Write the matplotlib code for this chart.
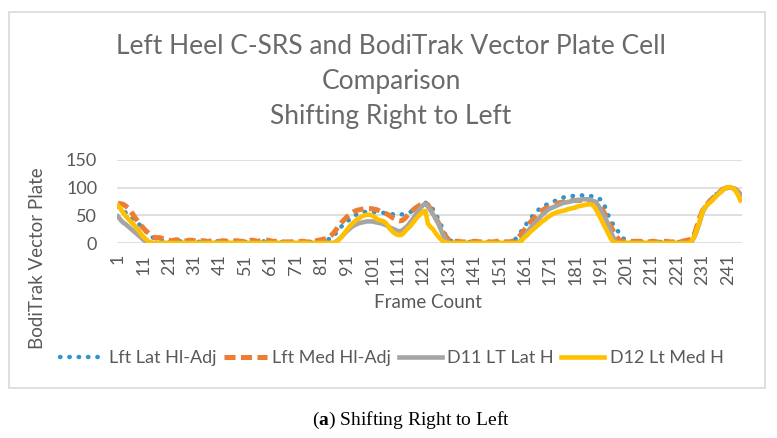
"""Left heel C-SRS vs BodiTrak vector plate cell: shifting right to left."""
import matplotlib
matplotlib.use("Agg")
import matplotlib.pyplot as plt
from matplotlib.patches import Rectangle

plt.rcParams["font.family"] = ["Lato", "DejaVu Sans"]
plt.rcParams["mathtext.fontset"] = "custom"
plt.rcParams["mathtext.rm"] = "Liberation Serif"
plt.rcParams["mathtext.bf"] = "Liberation Serif:bold"

# frame numbers 1..246 (rows of 10 frames)
lft_lat = [
    66, 62, 58, 55, 51, 47, 43, 39, 35, 31,
    26, 21, 16, 12, 9, 7, 6, 5, 5, 4,
    4, 4, 3, 3, 3, 3, 3, 3, 3, 3,
    3, 3, 2, 2, 3, 3, 3, 2, 2, 3,
    3, 3, 2, 2, 2, 3, 3, 3, 2, 2,
    2, 3, 3, 3, 3, 2, 2, 3, 3, 3,
    3, 2, 2, 2, 2, 2, 2, 2, 2, 2,
    2, 2, 2, 2, 2, 2, 2, 3, 3, 3,
    4, 5, 6, 7, 8, 13, 19, 25, 30, 34,
    38, 42, 46, 49, 52, 54, 55, 56, 56, 56,
    56, 56, 56, 55, 55, 54, 53, 53, 52, 52,
    51, 51, 52, 53, 54, 56, 58, 61, 65, 70,
    74, 73, 70, 66, 61, 53, 44, 34, 24, 14,
    7, 4, 3, 2, 2, 2, 2, 2, 2, 2,
    2, 2, 2, 2, 2, 2, 2, 2, 2, 2,
    2, 2, 2, 2, 3, 3, 5, 10, 16, 23,
    30, 36, 42, 48, 53, 58, 62, 65, 68, 70,
    72, 74, 76, 78, 80, 82, 83, 84, 84, 85,
    85, 86, 86, 86, 86, 85, 85, 84, 83, 80,
    79, 73, 62, 50, 40, 33, 27, 20, 13, 8,
    5, 4, 3, 3, 3, 2, 2, 2, 2, 2,
    2, 2, 2, 2, 2, 2, 2, 2, 2, 2,
    2, 2, 2, 3, 4, 6, 9, 17, 30, 44,
    57, 66, 72, 77, 82, 86, 90, 94, 97, 99,
    100, 100, 99, 98, 96, 94,
]
lft_med = [
    72, 71, 70, 67, 63, 58, 51, 44, 38, 32,
    27, 22, 18, 14, 11, 9, 10, 9, 7, 6,
    5, 4, 5, 6, 5, 4, 3, 4, 5, 5,
    4, 3, 3, 4, 4, 3, 3, 4, 4, 3,
    3, 4, 4, 3, 3, 3, 4, 4, 3, 3,
    3, 4, 5, 5, 4, 3, 4, 5, 6, 5,
    4, 3, 3, 3, 2, 2, 2, 2, 2, 2,
    2, 2, 3, 3, 2, 2, 2, 3, 4, 5,
    6, 7, 8, 10, 14, 19, 25, 31, 37, 42,
    47, 51, 54, 57, 59, 60, 61, 62, 62, 62,
    62, 61, 60, 58, 56, 54, 52, 49, 46, 44,
    41, 40, 41, 45, 50, 55, 59, 63, 66, 69,
    71, 72, 69, 62, 54, 46, 38, 28, 19, 12,
    7, 4, 3, 3, 3, 2, 2, 2, 2, 2,
    3, 3, 2, 2, 2, 2, 2, 2, 2, 3,
    3, 2, 2, 2, 2, 3, 4, 7, 12, 18,
    24, 30, 36, 41, 46, 51, 55, 59, 62, 64,
    66, 68, 70, 72, 73, 74, 75, 76, 76, 77,
    77, 77, 77, 77, 77, 77, 76, 75, 74, 71,
    66, 58, 49, 40, 30, 21, 13, 7, 4, 3,
    4, 4, 3, 3, 3, 3, 3, 2, 2, 2,
    3, 3, 2, 2, 3, 3, 3, 2, 2, 2,
    3, 3, 3, 4, 5, 6, 9, 18, 32, 46,
    58, 66, 71, 76, 81, 85, 89, 93, 97, 99,
    100, 100, 99, 97, 93, 88,
]
d11_lat = [
    48, 42, 37, 34, 30, 26, 22, 18, 14, 10,
    6, 3, 1, 0, 0, 0, 0, 0, 0, 0,
    0, 0, 0, 0, 0, 0, 0, 0, 0, 0,
    0, 0, 0, 0, 0, 0, 0, 0, 0, 0,
    0, 0, 0, 0, 0, 0, 0, 0, 0, 0,
    0, 0, 0, 0, 0, 0, 0, 0, 0, 0,
    0, 0, 0, 0, 0, 0, 0, 0, 0, 0,
    0, 0, 0, 0, 0, 0, 0, 0, 0, 0,
    0, 0, 0, 0, 0, 0, 3, 7, 11, 16,
    21, 25, 29, 32, 34, 36, 37, 38, 39, 39,
    39, 38, 37, 36, 35, 33, 31, 28, 26, 24,
    22, 21, 23, 27, 31, 37, 43, 50, 57, 63,
    68, 71, 66, 59, 52, 44, 36, 25, 14, 5,
    1, 0, 0, 0, 0, 0, 0, 0, 0, 0,
    0, 0, 0, 0, 0, 0, 0, 0, 0, 0,
    0, 0, 0, 0, 0, 0, 0, 0, 2, 7,
    13, 19, 25, 31, 36, 41, 46, 51, 55, 59,
    62, 64, 66, 68, 70, 72, 73, 74, 75, 76,
    77, 78, 78, 79, 79, 79, 78, 76, 73, 68,
    60, 52, 44, 32, 20, 10, 2, 0, 0, 0,
    0, 0, 0, 0, 0, 0, 0, 0, 0, 0,
    0, 0, 0, 0, 0, 0, 0, 0, 0, 0,
    0, 0, 0, 0, 0, 0, 4, 12, 24, 38,
    54, 63, 69, 74, 79, 84, 88, 92, 96, 99,
    100, 100, 99, 96, 92, 87,
]
d12_med = [
    68, 62, 55, 49, 44, 39, 34, 29, 23, 17,
    11, 7, 3, 1, 0, 0, 0, 0, 0, 0,
    0, 0, 0, 0, 0, 0, 0, 0, 0, 0,
    0, 0, 0, 0, 0, 0, 0, 0, 0, 0,
    0, 0, 0, 0, 0, 0, 0, 0, 0, 0,
    0, 0, 0, 0, 0, 0, 0, 0, 0, 0,
    0, 0, 0, 0, 0, 0, 0, 0, 0, 0,
    0, 0, 0, 0, 0, 0, 0, 0, 0, 0,
    0, 0, 0, 0, 0, 0, 2, 6, 11, 17,
    23, 29, 34, 38, 42, 45, 48, 50, 51, 51,
    50, 47, 43, 41, 40, 38, 33, 26, 21, 17,
    15, 14, 16, 21, 26, 30, 36, 42, 47, 52,
    57, 58, 35, 29, 25, 18, 12, 7, 3, 1,
    0, 0, 0, 0, 0, 0, 0, 0, 0, 0,
    0, 0, 0, 0, 0, 0, 0, 0, 0, 0,
    0, 0, 0, 0, 0, 0, 0, 0, 1, 5,
    10, 14, 19, 23, 27, 31, 35, 39, 42, 46,
    49, 52, 54, 56, 57, 58, 59, 61, 62, 63,
    64, 66, 67, 68, 69, 70, 70, 68, 62, 53,
    44, 35, 26, 17, 8, 2, 0, 0, 0, 0,
    0, 0, 0, 0, 0, 0, 0, 0, 0, 0,
    0, 0, 0, 0, 0, 0, 0, 0, 0, 0,
    0, 0, 0, 0, 0, 0, 5, 14, 26, 40,
    56, 64, 69, 73, 77, 82, 87, 91, 95, 99,
    101, 101, 99, 95, 87, 77,
]
frames = list(range(1, len(d12_med) + 1))
tick_frames = list(range(1, 242, 10))
y_ticks = [0, 50, 100, 150]

TXT = "#595959"
GRID = "#d9d9d9"

fig = plt.figure(figsize=(7.77, 4.38), dpi=100)

# chart area border
fig.patches.append(Rectangle((9 / 777, 1 - 388 / 438), 756 / 777, 376 / 438,
                             transform=fig.transFigure, fill=False,
                             edgecolor=GRID, lw=1.2))

ax = fig.add_axes([116.7 / 777, 1 - 243 / 438, 625 / 777, 83 / 438])
ax.plot(frames, lft_lat, color="#2e95cf", lw=3.2, ls=(0, (0.1, 2.0)),
        dash_capstyle="round", label="Lft Lat Hl-Adj")
ax.plot(frames, lft_med, color="#ed7d31", lw=3.6, ls=(0, (2.2, 1.1)),
        label="Lft Med Hl-Adj")
ax.plot(frames, d11_lat, color="#a5a5a5", lw=3.3, label="D11 LT Lat H")
ax.plot(frames, d12_med, color="#ffc000", lw=3.3, label="D12 Lt Med H")

ax.set_xlim(0.5, len(frames) + 0.5)
ax.set_ylim(0, 150)
ax.set_yticks(y_ticks)
ax.set_xticks(tick_frames)
ax.set_xticklabels([str(t) for t in tick_frames], rotation=90)
ax.tick_params(length=0, labelsize=13, labelcolor=TXT)
ax.tick_params(axis="x", pad=8)
ax.tick_params(axis="y", pad=14)
ax.grid(axis="y", color=GRID, lw=1.2)
ax.set_axisbelow(True)
for s in ax.spines.values():
    s.set_visible(False)

fig.text(391 / 777, 1 - 82 / 438,
         "Left Heel C-SRS and BodiTrak Vector Plate Cell\nComparison\nShifting Right to Left",
         ha="center", va="center", fontsize=19, color="#6a6a6a", linespacing=1.5)
fig.text(428 / 777, 1 - 302 / 438, "Frame Count", ha="center", va="center",
         fontsize=13.5, color=TXT)
fig.text(38 / 777, 1 - 258 / 438, "BodiTrak Vector Plate", ha="center", va="center",
         rotation=90, fontsize=13.5, color=TXT)

fig.legend(loc="center", bbox_to_anchor=(392 / 777, 1 - 358 / 438), ncol=4,
           frameon=False, fontsize=13, handlelength=2.4, handletextpad=0.3,
           columnspacing=0.4, labelcolor=TXT)

fig.text(411 / 777, 1 - 420 / 438, r"($\mathbf{a}$) Shifting Right to Left", ha="center",
         va="center", fontsize=14, family="Liberation Serif")

fig.savefig("out.png", dpi=100)
